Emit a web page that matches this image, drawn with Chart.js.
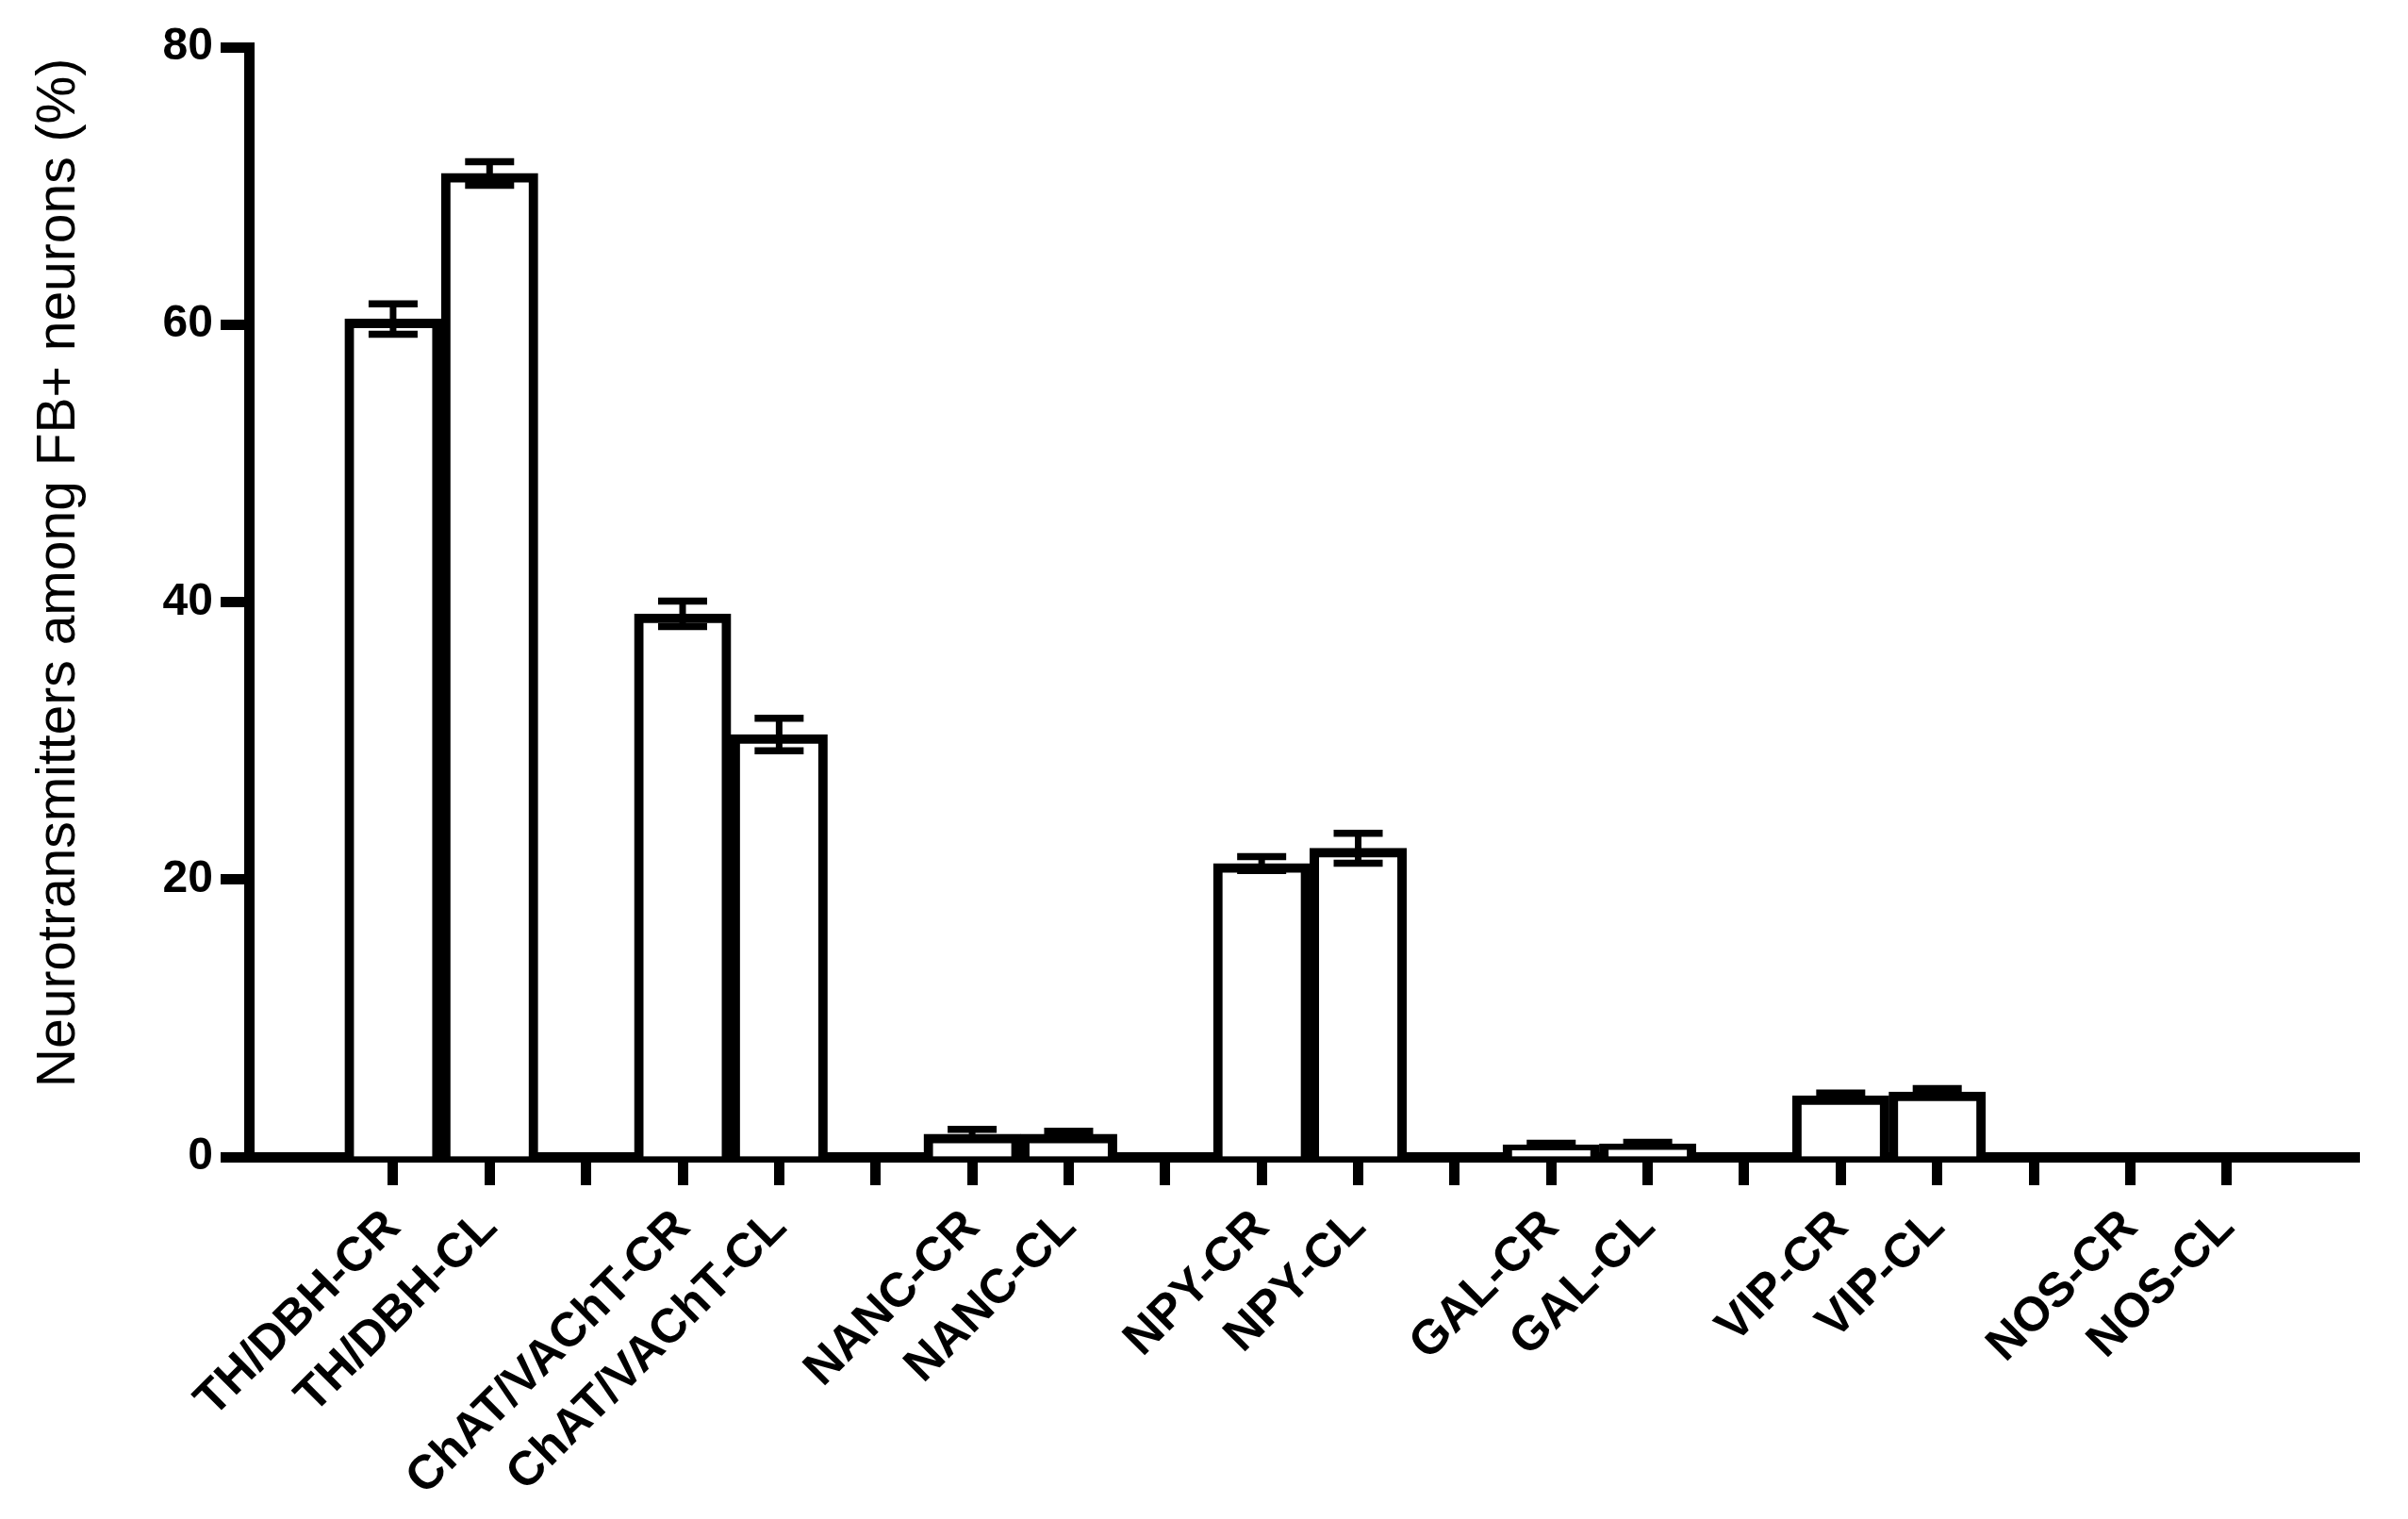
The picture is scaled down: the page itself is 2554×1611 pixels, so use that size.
<!DOCTYPE html>
<html>
<head>
<meta charset="utf-8">
<script src="https://cdn.jsdelivr.net/npm/chart.js@4/dist/chart.umd.min.js"></script>
<style>
  html, body { margin: 0; padding: 0; background: #ffffff; }
  canvas { display: block; }
</style>
</head>
<body>
<canvas id="c" width="2554" height="1611"></canvas>
<script>
// Categories ('' = empty spacer slot between groups)
const categories = ['TH/DBH-CR', 'TH/DBH-CL', '', 'ChAT/VAChT-CR', 'ChAT/VAChT-CL', '', 'NANC-CR', 'NANC-CL', '', 'NPY-CR', 'NPY-CL', '', 'GAL-CR', 'GAL-CL', '', 'VIP-CR', 'VIP-CL', '', 'NOS-CR', 'NOS-CL'];
// Mean percentage of FB+ neurons
const values = [60.4, 70.9, null, 39.15, 30.45, null, 1.65, 1.65, null, 21.15, 22.25, null, 0.88, 0.95, null, 4.42, 4.69, null, 0, 0];
// Error (SEM)
const errors = [1.1, 0.85, null, 0.92, 1.17, null, 0.34, 0.21, null, 0.5, 1.08, null, 0.1, 0.1, null, 0.18, 0.23, null, 0, 0];
// Y-axis tick values
const yTicks = [0, 20, 40, 60, 80];
const yTitle = 'Neurotransmitters among FB+ neurons (%)';

const FONT = "'Liberation Sans', Arial, Helvetica, sans-serif";

const errorBars = {
  id: 'errorBars',
  afterDatasetsDraw(chart) {
    const ctx = chart.ctx;
    const ys = chart.scales.y;
    const meta = chart.getDatasetMeta(0);
    ctx.save();
    ctx.strokeStyle = '#000';
    ctx.lineCap = 'butt';
    meta.data.forEach((bar, i) => {
      const v = values[i], e = errors[i];
      if (v === null || !e) return;
      const x = bar.x;
      const yTop = ys.getPixelForValue(v + e);
      const yBot = ys.getPixelForValue(v - e);
      ctx.lineWidth = 7;
      ctx.beginPath();
      ctx.moveTo(x, yTop);
      ctx.lineTo(x, yBot);
      ctx.stroke();
      ctx.lineWidth = 7.5;
      ctx.beginPath();
      ctx.moveTo(x - 26, yTop); ctx.lineTo(x + 26, yTop);
      ctx.moveTo(x - 26, yBot); ctx.lineTo(x + 26, yBot);
      ctx.stroke();
    });
    ctx.restore();
  }
};

const yTitlePlugin = {
  id: 'yTitlePlugin',
  afterDraw(chart) {
    const ctx = chart.ctx;
    const ys = chart.scales.y;
    ctx.save();
    ctx.translate(63, (ys.top + ys.bottom) / 2 - 31);
    ctx.rotate(-Math.PI / 2);
    ctx.fillStyle = '#000';
    ctx.font = 'normal 57px ' + FONT;
    ctx.textAlign = 'center';
    ctx.textBaseline = 'middle';
    ctx.fillText(yTitle, 0, 0);
    ctx.restore();
  }
};

new Chart(document.getElementById('c'), {
  type: 'bar',
  data: {
    datasets: [{
      data: values.map((v, i) => ({ x: i, y: v })),
      backgroundColor: '#ffffff',
      borderColor: '#000000',
      borderWidth: 10,
      barPercentage: 1.0,
      categoryPercentage: 1.0
    }]
  },
  options: {
    responsive: false,
    devicePixelRatio: 1,
    animation: false,
    layout: { padding: { top: 50, right: 52, bottom: 0, left: 0 } },
    plugins: {
      legend: { display: false },
      tooltip: { enabled: false }
    },
    scales: {
      x: {
        type: 'linear',
        z: 1,
        offset: false,
        min: -1.494,
        max: 20.37,
        afterBuildTicks: (scale) => { scale.ticks = categories.map((c, i) => ({ value: i })); },
        border: { display: true, color: '#000', width: 11 },
        grid: {
          display: true,
          drawOnChartArea: false,
          drawTicks: true,
          offset: false,
          tickLength: 30,
          tickWidth: 11,
          tickColor: '#000'
        },
        ticks: {
          autoSkip: false,
          maxRotation: 45,
          minRotation: 45,
          padding: 15,
          color: '#000',
          callback: (value) => categories[value] !== undefined ? categories[value] : '',
          font: { family: FONT, size: 51, weight: 'bold' }
        },
        afterFit: (scale) => { scale.height = 384; }
      },
      y: {
        z: 1,
        min: 0,
        max: 80,
        afterBuildTicks: (scale) => { scale.ticks = yTicks.map(v => ({ value: v })); },
        border: { display: true, color: '#000', width: 11 },
        grid: {
          display: true,
          drawOnChartArea: false,
          drawTicks: true,
          tickLength: 30,
          tickWidth: 11,
          tickColor: '#000'
        },
        ticks: {
          padding: 8,
          color: '#000',
          font: { family: FONT, size: 48, weight: 'bold' }
        },
        title: { display: false },
        afterFit: (scale) => { scale.width = 264; }
      }
    }
  },
  plugins: [errorBars, yTitlePlugin]
});
</script>
</body>
</html>
